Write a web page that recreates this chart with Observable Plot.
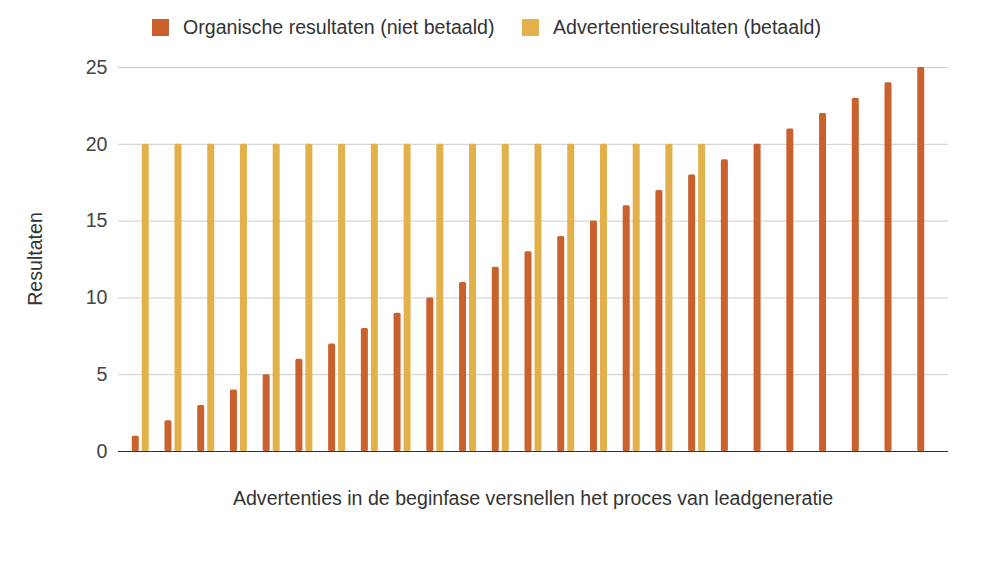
<!DOCTYPE html>
<html>
<head>
<meta charset="utf-8">
<script src="https://cdn.jsdelivr.net/npm/d3@7"></script>
<script src="https://cdn.jsdelivr.net/npm/@observablehq/plot@0.6"></script>
<style>
  html, body { margin: 0; padding: 0; background: #fff; }
  #wrap { position: relative; width: 988px; height: 561px; font-family: "Liberation Sans", Arial, sans-serif; }
  #chart { position: absolute; left: 0; top: 0; }
  .legend { position: absolute; top: 14px; left: 0; width: 988px; height: 26px; font-size: 19.6px; color: #333; }
  .item { position: absolute; top: 0; display: flex; align-items: center; height: 26px; }
  .sw { width: 17px; height: 17px; margin-right: 14px; }
  .xtitle { position: absolute; top: 487px; left: 0; width: 988px; text-align: center; font-size: 19.6px; color: #333; padding-left: 78px; box-sizing: border-box; }
  .ytitle { position: absolute; left: 35px; top: 259px; transform: translate(-50%, -50%) rotate(-90deg); font-size: 19.6px; color: #333; white-space: nowrap; }
</style>
</head>
<body>
<div id="wrap">
  <div id="chart"></div>
  <div class="legend">
    <div class="item" style="left:152px"><div class="sw" id="sw1"></div><span id="lab1"></span></div>
    <div class="item" style="left:522px"><div class="sw" id="sw2"></div><span id="lab2"></span></div>
  </div>
  <div class="ytitle" id="ytitle"></div>
  <div class="xtitle" id="xtitle"></div>
</div>
<script>
// Categories (25 unnamed groups)
const groups = ["1","2","3","4","5","6","7","8","9","10","11","12","13","14","15","16","17","18","19","20","21","22","23","24","25"];
// Series values
const organic = [1,2,3,4,5,6,7,8,9,10,11,12,13,14,15,16,17,18,19,20,21,22,23,24,25];
const paid = [20,20,20,20,20,20,20,20,20,20,20,20,20,20,20,20,20,20];
// Labels
const seriesNames = ["Organische resultaten (niet betaald)", "Advertentieresultaten (betaald)"];
const colors = ["#c8612e", "#e3b14b"];
const yTicks = [0,5,10,15,20,25];
const xTitle = "Advertenties in de beginfase versnellen het proces van leadgeneratie";
const yTitle = "Resultaten";

const orgData = organic.map((v, i) => ({g: groups[i], v}));
const paidData = paid.map((v, i) => ({g: groups[i], v}));

const chart = Plot.plot({
  width: 988,
  height: 561,
  marginTop: 67,
  marginBottom: 110,
  marginLeft: 118,
  marginRight: 40,
  style: {fontFamily: '"Liberation Sans", Arial, sans-serif', fontSize: "19.6px", color: "#444", background: "#fff"},
  x: {type: "band", domain: groups, round: false, paddingInner: 0.786, paddingOuter: 0.573, axis: null},
  y: {domain: [0, 25], ticks: yTicks, tickSize: 0, tickPadding: 11, label: null},
  marks: [
    Plot.gridY(yTicks, {stroke: "#cccccc", strokeOpacity: 1}),
    Plot.barY(orgData, {x: "g", y: "v", fill: colors[0], dx: -5, rx: 1.5}),
    Plot.barY(paidData, {x: "g", y: "v", fill: colors[1], dx: 5, rx: 1.5}),
    Plot.ruleY([0], {stroke: "#333"})
  ]
});
document.getElementById("chart").appendChild(chart);

document.getElementById("sw1").style.background = colors[0];
document.getElementById("sw2").style.background = colors[1];
document.getElementById("lab1").textContent = seriesNames[0];
document.getElementById("lab2").textContent = seriesNames[1];
document.getElementById("xtitle").textContent = xTitle;
document.getElementById("ytitle").textContent = yTitle;
</script>
</body>
</html>
